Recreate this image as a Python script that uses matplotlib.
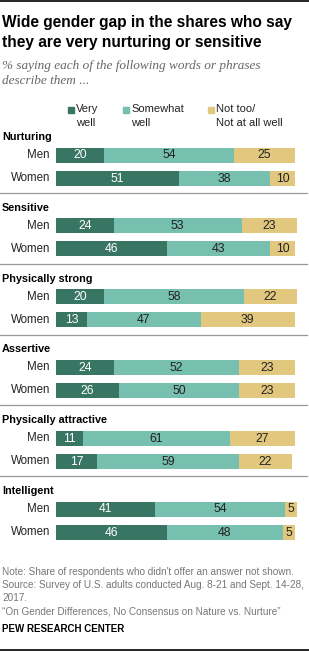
import matplotlib
matplotlib.use("Agg")
import matplotlib.pyplot as plt
from matplotlib.lines import Line2D
from matplotlib.patches import Rectangle

# veriler
traits = ["Nurturing", "Sensitive", "Physically strong", "Assertive",
          "Physically attractive", "Intelligent"]
genders = ["Men", "Women"]
very_well = [[20, 51], [24, 46], [20, 13], [24, 26], [11, 17], [41, 46]]
somewhat_well = [[54, 38], [53, 43], [58, 47], [52, 50], [61, 59], [54, 48]]
not_well = [[25, 10], [23, 10], [22, 39], [23, 23], [27, 22], [5, 5]]
legend_labels = ["Very\nwell", "Somewhat\nwell", "Not too/\nNot at all well"]

RENKLER = ["#387663", "#77bfae", "#e2c87f"]
YAZI_RENK = ["white", "#222222", "#222222"]

plt.rcParams["font.family"] = ["Liberation Sans", "DejaVu Sans"]

W, H = 309, 652
fig = plt.figure(figsize=(W / 100, H / 100), dpi=100)


def fx(px):
    return px / W


def fy(py):
    return 1 - py / H


# bar ekseni: x yuzde, y piksel (yukaridan asagi)
ax = fig.add_axes([fx(56), 0, fx(297) - fx(56), 1])
ax.set_xlim(0, 100)
ax.set_ylim(H, 0)
ax.axis("off")

GRUP0, GRUP_ARA, SATIR_ARA, BAR_H = 155, 70.8, 23, 15

for g, trait in enumerate(traits):
    ust = GRUP0 + g * GRUP_ARA
    fig.text(fx(2), fy(ust - 18), trait, fontsize=7.8, fontweight="bold",
             ha="left", va="center", color="black")
    for k, gender in enumerate(genders):
        y = ust + k * SATIR_ARA
        vals = [very_well[g][k], somewhat_well[g][k], not_well[g][k]]
        left = 0
        for s, v in enumerate(vals):
            ax.barh(y, v, left=left, height=BAR_H, color=RENKLER[s], linewidth=0)
            ax.text(left + v / 2, y + 0.5, str(v), ha="center", va="center",
                    fontsize=8.8, color=YAZI_RENK[s])
            left += v
        fig.text(fx(50), fy(y), gender, ha="right", va="center",
                 fontsize=8.3, color="#222222")
    if g < len(traits) - 1:
        sy = ust + SATIR_ARA + 15
        fig.add_artist(Line2D([0, fx(307)], [fy(sy), fy(sy)],
                              color="#999999", linewidth=0.9))

# ust ve alt cizgi
fig.add_artist(Line2D([0, 1], [fy(1), fy(1)], color="black", linewidth=1.2))
fig.add_artist(Line2D([0, 1], [fy(650), fy(650)], color="black", linewidth=1.2))

# baslik
for ty, t in [(22, "Wide gender gap in the shares who say"),
              (43, "they are very nurturing or sensitive")]:
    fig.text(fx(2), fy(ty), t, fontsize=11.2, fontweight="bold",
             ha="left", va="center", color="black")
fig.text(fx(2), fy(66), "% saying each of the following words or phrases",
         fontsize=9.5, style="italic", family="Liberation Serif", ha="left",
         va="center", color="#666666")
fig.text(fx(2), fy(81), "describe them ...",
         fontsize=9.5, style="italic", family="Liberation Serif", ha="left",
         va="center", color="#666666")

# lejant
for lx, lab, c in zip([68, 123, 208], legend_labels, RENKLER):
    fig.add_artist(Rectangle((fx(lx), fy(113)), fx(6), 6 / H, color=c,
                             transform=fig.transFigure))
    fig.text(fx(lx + 8), fy(104), lab, fontsize=8, ha="left", va="top",
             color="#222222", linespacing=1.5)

# notlar
notlar = ["Note: Share of respondents who didn't offer an answer not shown.",
          "Source: Survey of U.S. adults conducted Aug. 8-21 and Sept. 14-28,",
          "2017.",
          "\u201cOn Gender Differences, No Consensus on Nature vs. Nurture\u201d"]
for i, n in enumerate(notlar):
    fig.text(fx(2), fy(572 + i * 13), n, fontsize=7.2, ha="left",
             va="center", color="#777777")
fig.text(fx(2), fy(629), "PEW RESEARCH CENTER", fontsize=7.0, fontweight="bold",
         ha="left", va="center", color="black")

fig.savefig("out.png", dpi=100)
